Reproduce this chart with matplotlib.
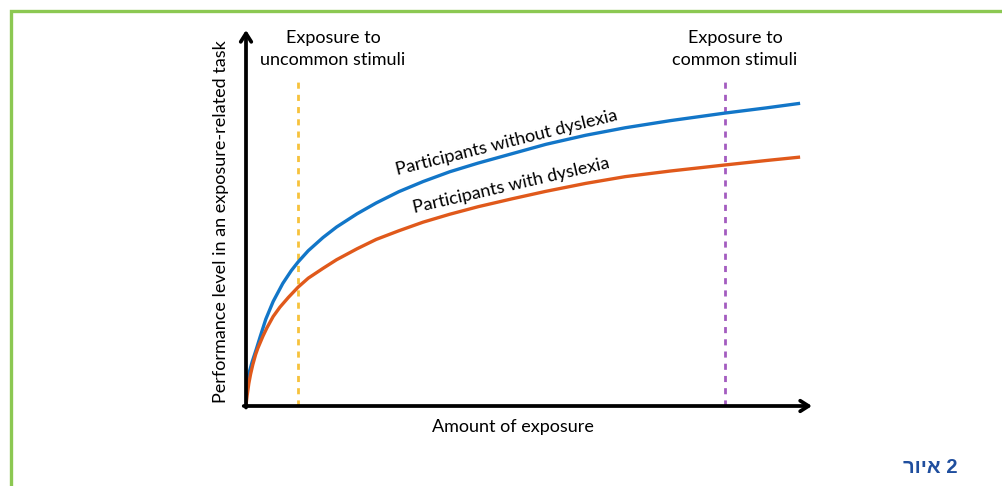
import matplotlib.pyplot as plt
from matplotlib.patches import Rectangle

# Curves (x: amount of exposure, y: performance, both 0-100)
x_without = [0, 0.5, 1.1, 1.8, 2.5, 3.5, 4.8, 6.5, 8, 9.2, 11, 13.6, 16, 19.6,
             23, 27, 31.3, 36, 41, 47, 53, 60, 67, 75, 84.6, 92, 97.9]
y_without = [5.5, 8.6, 11.8, 15.0, 18.4, 23.1, 27.8, 32.6, 36.0, 38.3, 41.3,
             44.8, 47.6, 51.1, 54.0, 57.0, 59.7, 62.3, 64.6, 67.1, 69.6, 72.0,
             74.0, 75.9, 77.9, 79.3, 80.5]
x_with = [0, 0.2, 0.5, 0.8, 1.2, 1.7, 2.1, 3, 3.7, 4.8, 6, 7.5, 9.2, 11, 13.6,
          16, 19.6, 23, 27, 31.3, 36, 41, 47, 53, 60, 67, 75, 84.6, 92, 97.9]
y_with = [0.3, 2.8, 6.0, 8.4, 11.0, 13.7, 15.4, 18.6, 20.8, 23.8, 26.3, 28.9,
          31.6, 34.0, 36.6, 38.9, 41.8, 44.3, 46.6, 48.9, 51.0, 53.0, 55.1,
          57.1, 59.2, 61.0, 62.5, 64.1, 65.3, 66.2]

uncommon_x = 9.2
common_x = 84.6
marker_top = 87.8

font = 'Lato'
fs = 13

fig = plt.figure(figsize=(10.03, 4.86), dpi=100)

# green frame (only top and left edges are inside the picture)
fig.add_artist(Rectangle((10.5 / 1003, -0.1), 1.2, 1.1 - 10.5 / 486,
                         transform=fig.transFigure, fill=False,
                         edgecolor='#8cc852', lw=2.4))

ax = fig.add_axes([246 / 1003, 80 / 486, 566 / 1003, 376 / 486])
ax.set_xlim(0, 100)
ax.set_ylim(0, 100)
for s in ax.spines.values():
    s.set_visible(False)
ax.set_xticks([])
ax.set_yticks([])
ax.patch.set_alpha(0)

# axis arrows
arrow = dict(arrowstyle='->,head_length=0.6,head_width=0.38', lw=2.7,
             color='black', shrinkA=0, shrinkB=0)
ax.annotate('', xy=(1, 0), xytext=(-0.004, 0), xycoords='axes fraction',
            arrowprops=arrow)
ax.annotate('', xy=(0, 1), xytext=(0, -0.004), xycoords='axes fraction',
            arrowprops=arrow)

ax.plot([uncommon_x, uncommon_x], [0, marker_top], color='#f7c23c', lw=2,
        ls=(0, (2.2, 2.2)))
ax.plot([common_x, common_x], [0, marker_top], color='#a35cc0', lw=2,
        ls=(0, (2.2, 2.2)))

ax.plot(x_without, y_without, color='#1276c8', lw=2.4, solid_capstyle='butt',
        solid_joinstyle='round')
ax.plot(x_with, y_with, color='#e0591b', lw=2.4, solid_capstyle='butt',
        solid_joinstyle='round')

ax.text(46.1, 70.0, 'Participants without dyslexia', rotation=14,
        rotation_mode='anchor', ha='center', va='center', fontsize=fs,
        family=font)
ax.text(46.8, 58.6, 'Participants with dyslexia', rotation=13,
        rotation_mode='anchor', ha='center', va='center', fontsize=fs,
        family=font)

fig.text(333 / 1003, 1 - 49 / 486, 'Exposure to\nuncommon stimuli',
         ha='center', va='center', fontsize=fs, family=font, linespacing=1.4)
fig.text(735 / 1003, 1 - 49 / 486, 'Exposure to\ncommon stimuli',
         ha='center', va='center', fontsize=fs, family=font, linespacing=1.4)
fig.text(513 / 1003, 1 - 427 / 486, 'Amount of exposure', ha='center',
         va='center', fontsize=fs, family=font)
fig.text(221 / 1003, 1 - 222 / 486,
         'Performance level in an exposure-related task', rotation=90,
         ha='center', va='center', fontsize=fs, family=font)

# figure caption (Hebrew word reversed so it shows right-to-left)
fig.text(958 / 1003, 1 - 467 / 486, 'איור'[::-1] + ' 2', ha='right',
         va='center', fontsize=14.5, fontweight='bold', color='#1f4e9e',
         family=['Liberation Sans', 'DejaVu Sans'])

fig.savefig('out.png', dpi=100)
